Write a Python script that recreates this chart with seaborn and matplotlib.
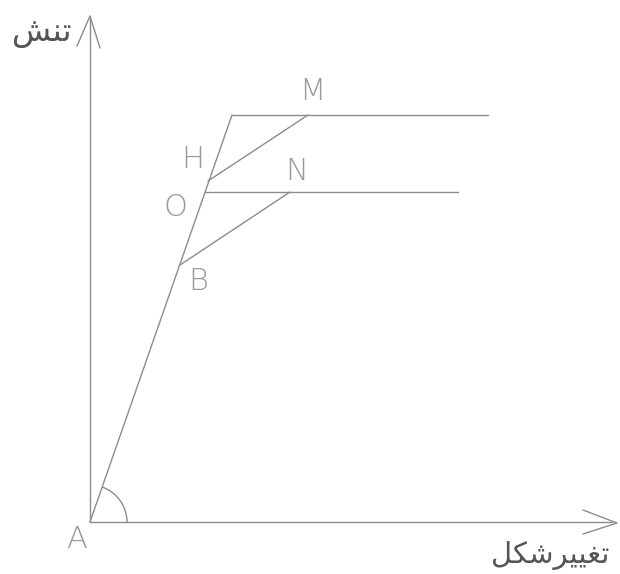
import matplotlib
matplotlib.use("Agg")
import matplotlib.pyplot as plt
import seaborn as sns
import pandas as pd
import numpy as np
from matplotlib.patches import Arc

sns.set_theme(style="white")
plt.rcParams['font.family'] = ['DejaVu Sans']

# Diagram geometry (pixel-space coordinates of the drawing)
seg_id = [0, 0, 1, 1, 2, 2, 3, 3, 4, 4, 5, 5, 6, 6]
seg_x  = [90, 90, 90, 612, 90, 232, 232, 488, 208, 308, 205, 458, 180, 290]
seg_y  = [522, 18, 522, 522, 522, 115, 115, 115, 181, 115, 192, 192, 265, 192]

point_labels = ["M", "H", "N", "O", "B", "A"]
label_x = [312, 193, 297, 176, 198, 77]
label_y = [91, 159, 172, 207, 282, 539]

y_title = "\uFEB6\uFEE8\uFE97"  # تنش
x_title = "\uFEDE\uFB91\uFEB7\uFEAE\uFBFF\uFBFF\uFED0\uFE97"  # تغییرشکل

fig = plt.figure(figsize=(6.2, 5.74), dpi=100)
ax = fig.add_axes([0, 0, 1, 1])
df = pd.DataFrame({"seg": seg_id, "x": seg_x, "y": seg_y})
line_color = "#8c8c8c"
sns.lineplot(data=df, x="x", y="y", units="seg", estimator=None, sort=False,
             color=line_color, lw=1.0, ax=ax)

# arrowheads
ax.plot([77, 90, 100], [46, 16, 48], color=line_color, lw=1.0)
ax.plot([583, 617, 583], [510, 523, 534], color=line_color, lw=1.0)

# angle arc at A
ax.add_patch(Arc((90, 522), 74, 74, theta1=-71, theta2=0, color=line_color, lw=1.0))

for t, x, y in zip(point_labels, label_x, label_y):
    ax.text(x, y, t, fontsize=22, color="#9a9a9a", ha="center", va="center",
            fontweight="light")

ax.text(42, 32, y_title, fontsize=23, color="#555555", ha="center", va="center",
        family=['DejaVu Sans', 'Noto Sans'])
ax.text(550, 556, x_title, fontsize=21, color="#555555", ha="center", va="center",
        family=['DejaVu Sans', 'Noto Sans'])

ax.set_xlim(0, 620)
ax.set_ylim(574, 0)
ax.axis("off")
fig.savefig("out.png", dpi=100, facecolor="white")
